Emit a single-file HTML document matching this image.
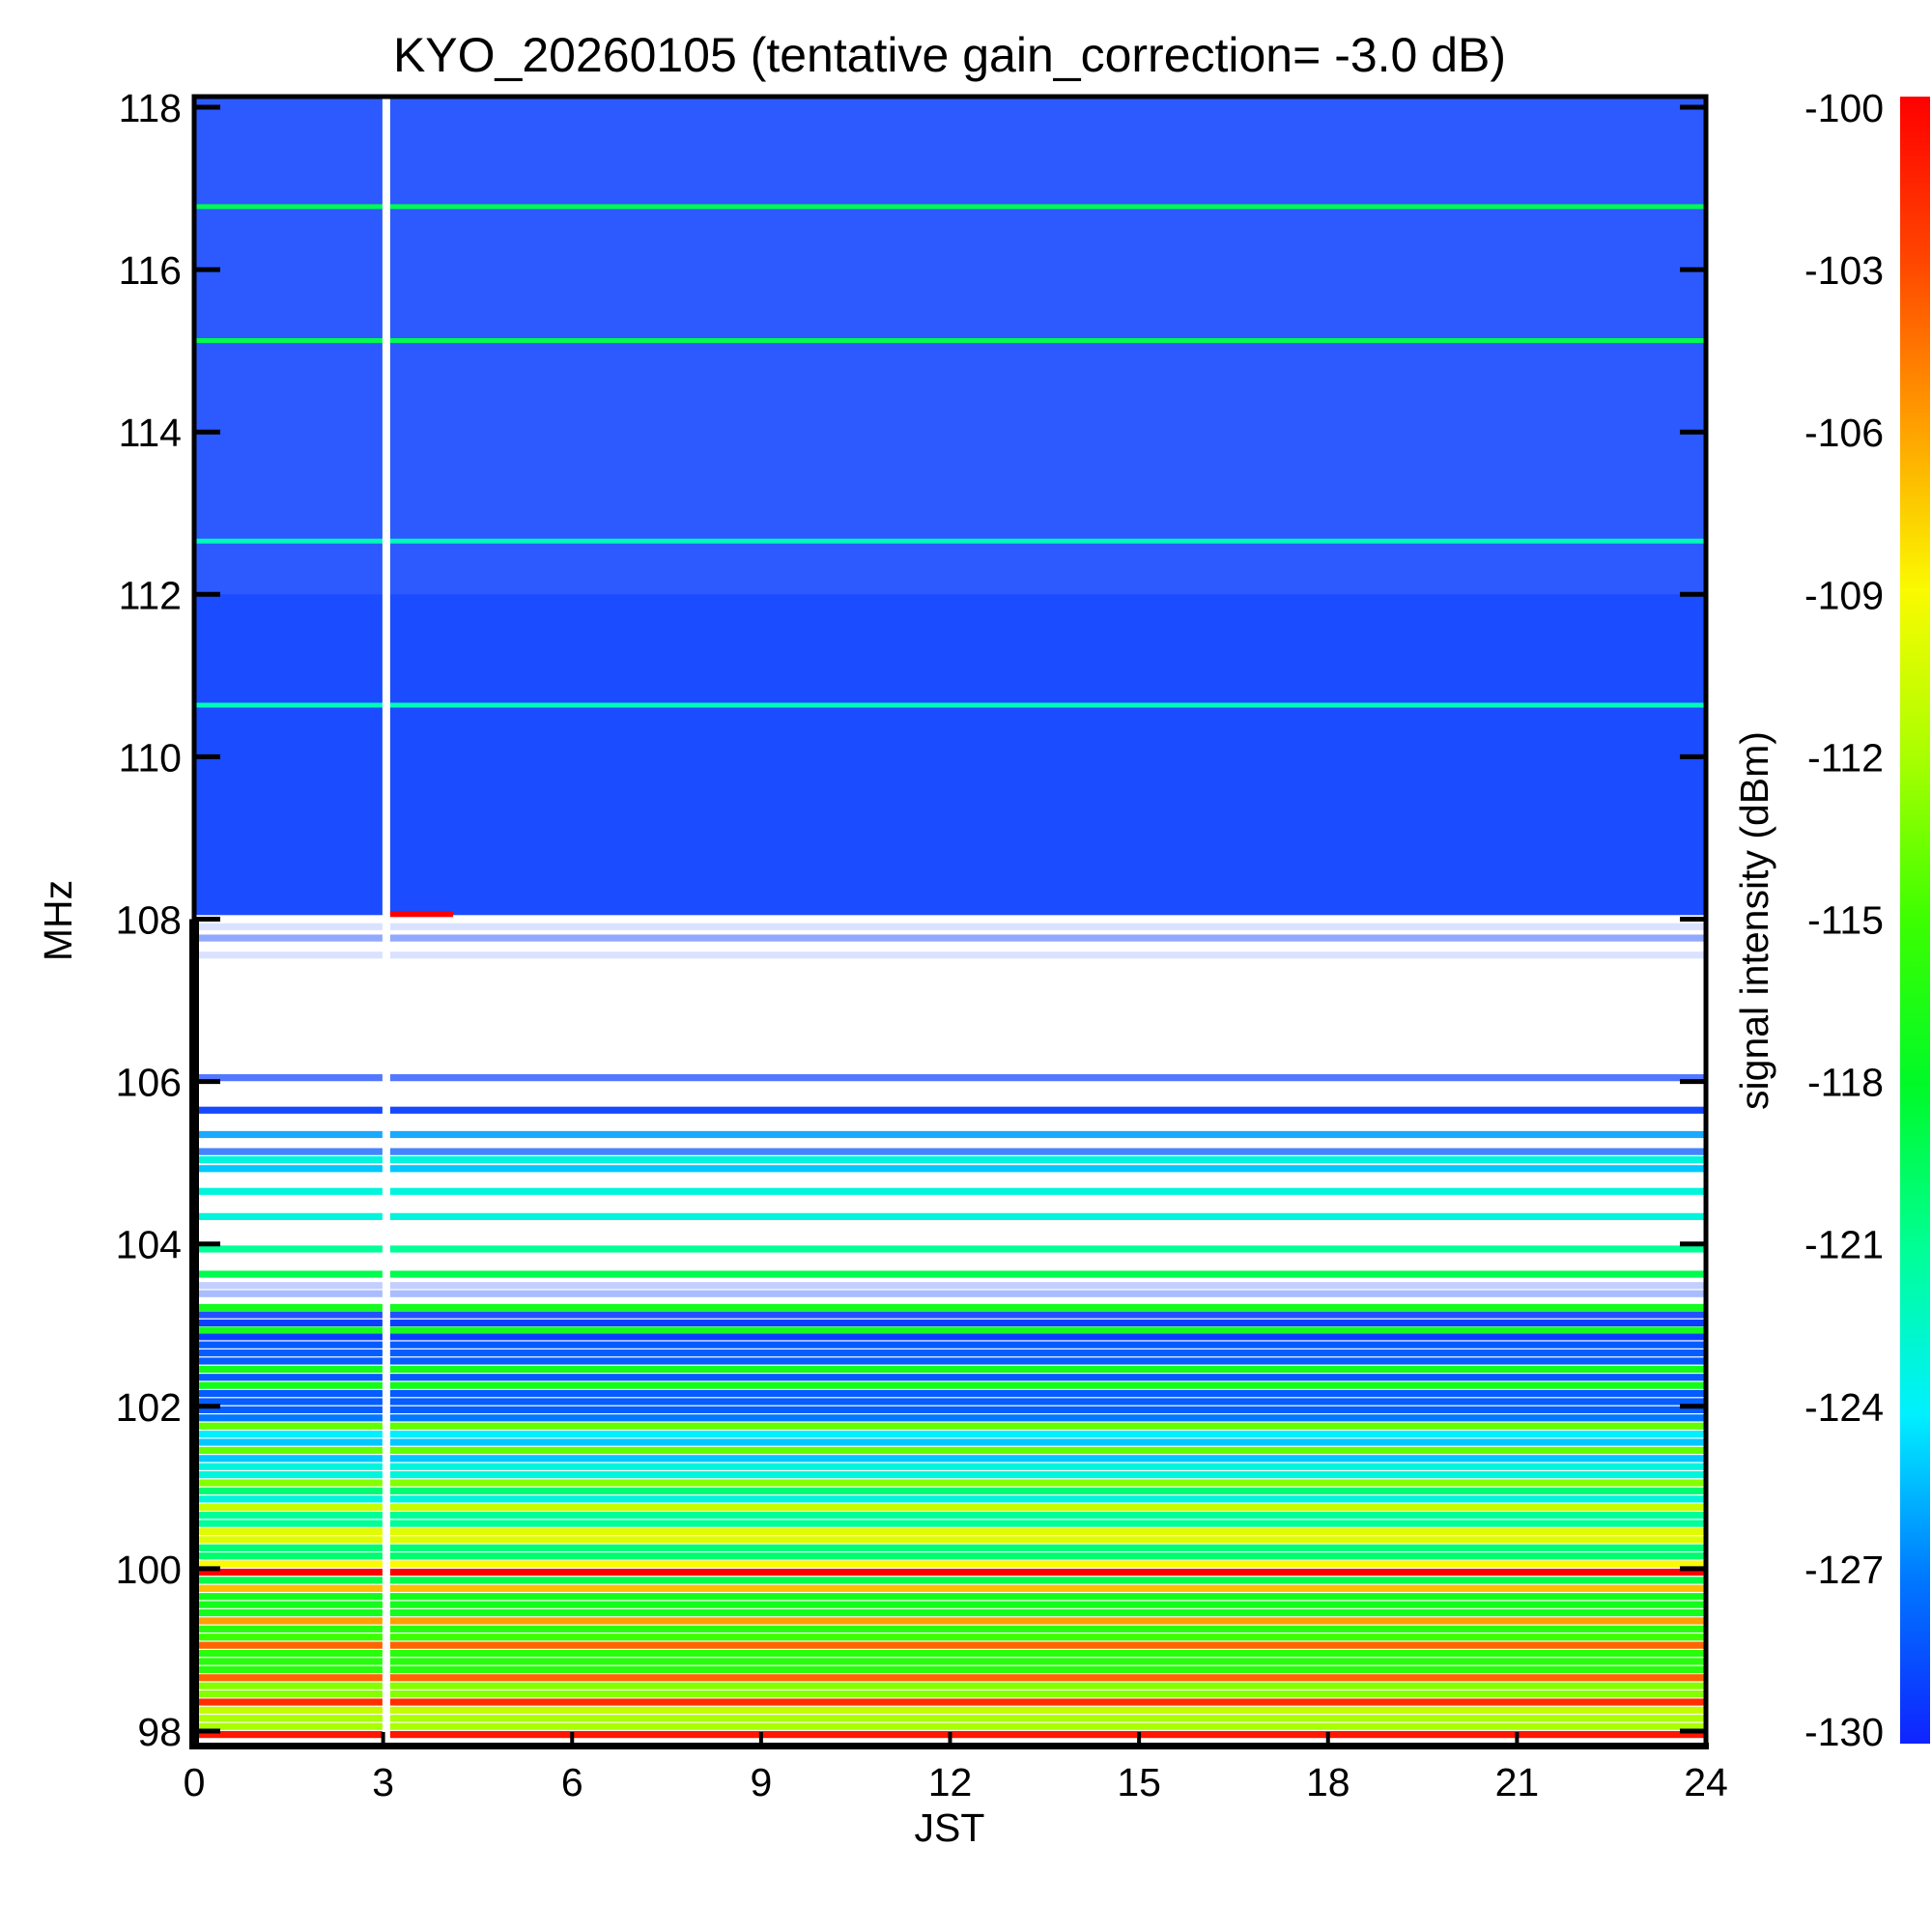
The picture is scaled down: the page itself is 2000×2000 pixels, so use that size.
<!DOCTYPE html>
<html><head><meta charset="utf-8"><style>
html,body{margin:0;padding:0;background:#fff}
svg{display:block}
text{font-family:"Liberation Sans",Arial,sans-serif;fill:#000}
</style></head><body>
<svg id="c" width="2000" height="2000" viewBox="0 0 2000 2000"></svg>
<script>
// frequency row centers (MHz), mean intensity (dBm) and occupancy fraction
const rowFreq = [97.95,98.05,98.15,98.25,98.35,98.45,98.55,98.65,98.75,98.85,98.95,99.05,99.15,99.25,99.35,99.45,99.55,99.65,99.75,99.85,99.95,100.05,100.15,100.25,100.35,100.45,100.55,100.65,100.75,100.85,100.95,101.05,101.15,101.25,101.35,101.45,101.55,101.65,101.75,101.85,101.95,102.05,102.15,102.25,102.35,102.45,102.55,102.65,102.75,102.85,102.93,103.02,103.12,103.21,103.38,103.48,103.62,103.93,104.33,104.64,104.92,105.03,105.13,105.34,105.64,106.04,107.55,107.76,107.9];
const rowVal  = [-101,-112,-112,-111,-102,-113,-113,-104,-116,-116,-116,-104,-115,-116,-106,-117,-117,-117,-107,-119,-100,-109,-120,-120,-110,-110,-121,-121,-111,-123,-120,-113,-123,-123,-125,-114,-125,-124,-114,-127,-128,-128,-128,-117,-128,-117,-128,-128,-128,-129,-117,-129,-129,-117,-129,-129,-119,-121,-123,-123,-125,-123,-128,-126,-129,-129,-129,-129,-129];
const rowFrac = [1,1,1,1,1,1,1,1,1,1,1,1,1,1,1,1,1,1,1,1,1,1,1,1,1,1,1,1,1,1,1,1,1,1,1,1,1,1,1,1,1,1,1,1,1,1,1,1,1,1,1,1,0.9,1,0.35,0.25,1,1,1,1,1,1,0.75,0.9,0.95,0.7,0.15,0.45,0.15];
// upper band (108-118 MHz)
const upperLo = 108.05, upperHi = 118.15, upperVal = -129;
const lineFreq = [116.77,115.12,112.65,110.63];
const lineVal  = [-119,-119,-122,-122];
const xTicks = [0,3,6,9,12,15,18,21,24];
const yTicks = [98,100,102,104,106,108,110,112,114,116,118];
const cTicks = [-100,-103,-106,-109,-112,-115,-118,-121,-124,-127,-130];
const gapTime = 3.05;

const svg=document.getElementById('c');const NS='http://www.w3.org/2000/svg';
function el(t,a,p){const e=document.createElementNS(NS,t);for(const k in a)e.setAttribute(k,a[k]);(p||svg).appendChild(e);return e;}
const X0=201,X1=1766,Y0=100,Y1=1807;
const xs=t=>X0+(X1-X0)*t/24;
const ys=f=>1792-(f-98)*84.05;
function jet(v){let t=(v+130)/30;t=Math.max(0,Math.min(1,t));
 const stops=[[0,[15,35,255]],[0.1,[0,120,255]],[0.2,[0,240,255]],[0.3,[0,255,150]],[0.4,[0,250,40]],[0.5,[60,255,0]],[0.6,[170,255,0]],[0.7,[250,250,0]],[0.8,[255,160,0]],[0.9,[255,70,0]],[1,[255,0,0]]];
 for(let i=1;i<stops.length;i++){if(t<=stops[i][0]){const a=stops[i-1],b=stops[i];const u=(t-a[0])/(b[0]-a[0]);return 'rgb('+a[1].map((c,j)=>Math.round(c+(b[1][j]-c)*u)).join(',')+')';}}
 return 'rgb(255,0,0)';}
const g=el('g',{});


const ub=el('rect',{x:X0,y:ys(upperHi),width:X1-X0,height:ys(upperLo)-ys(upperHi),fill:jet(upperVal)},g);


const o1=el('rect',{x:X0,y:ys(upperHi),width:X1-X0,height:ys(112)-ys(upperHi),fill:'#fff',opacity:0.14},g);


const o2=el('rect',{x:X0,y:ys(112),width:X1-X0,height:ys(upperLo)-ys(112),fill:'#fff',opacity:0.07},g);


for(let i=0;i<lineFreq.length;i++){
 const r=el('rect',{x:X0,y:ys(lineFreq[i])-3,width:X1-X0,height:5,fill:jet(lineVal[i])},g);
 
 
}
for(let i=0;i<rowFreq.length;i++){
 const top=ys(rowFreq[i]+0.05),bot=ys(rowFreq[i]-0.05);
 const r=el('rect',{x:X0,y:top,width:X1-X0,height:bot-top-1.2,fill:jet(rowVal[i]),opacity:rowFrac[i]},g);
 
 
}
const gap=el('rect',{x:xs(gapTime)-4,y:Y0,width:8,height:Y1-Y0,fill:'#fff'});


const rb=el('rect',{x:xs(gapTime)+4,y:ys(108.05)-4,width:xs(4)-xs(3),height:6,fill:'#f00'});


const fr=el('rect',{x:X0,y:Y0,width:X1-X0,height:Y1-Y0,fill:'none',stroke:'#000','stroke-width':5});


const lb=el('rect',{x:X0-5,y:ys(108),width:10,height:Y1-ys(108)+3,fill:'#000'});


const bb=el('rect',{x:X0-5,y:Y1-3,width:X1-X0+8,height:7,fill:'#000'});


xTicks.forEach(t=>{const tx=el('text',{x:xs(t),y:1859,'font-size':41,'text-anchor':'middle'});tx.textContent=t;
 
 
 el('line',{x1:xs(t),x2:xs(t),y1:Y1,y2:Y1-14,stroke:'#000','stroke-width':4});});
yTicks.forEach(f=>{const tx=el('text',{x:188,y:ys(f)+15,'font-size':41,'text-anchor':'end'});tx.textContent=f;
 
 
 el('line',{x1:X0,x2:X0+27,y1:ys(f),y2:ys(f),stroke:'#000','stroke-width':5});
 el('line',{x1:X1,x2:X1-27,y1:ys(f),y2:ys(f),stroke:'#000','stroke-width':5});});
const defs=el('defs',{});const lg=el('linearGradient',{id:'cb',x1:0,y1:1,x2:0,y2:0},defs);
for(let i=0;i<=30;i++)el('stop',{offset:i/30,'stop-color':jet(-130+i)},lg);
const cb=el('rect',{x:1967,y:Y0,width:31,height:1705,fill:'url(#cb)'});


cTicks.forEach(v=>{const tx=el('text',{x:1950,y:1792-(v+130)/30*1681+15,'font-size':41,'text-anchor':'end'});tx.textContent=v;
 
 });
function lab(txt,x,y,rot,name){const t=el('text',{x:x,y:y,'font-size':41,'text-anchor':'middle',transform:rot?'rotate(-90 '+x+' '+y+')':''});t.textContent=txt;
 
 }
const ti=el('text',{x:983,y:74,'font-size':50,'text-anchor':'middle'});ti.textContent='KYO_20260105 (tentative gain_correction= -3.0 dB)';


lab('JST',983,1906,false,'x-axis-title');
lab('MHz',74,953,true,'y-axis-title');
lab('signal intensity (dBm)',1830,953,true,'colorbar-title');
</script>
</body></html>
